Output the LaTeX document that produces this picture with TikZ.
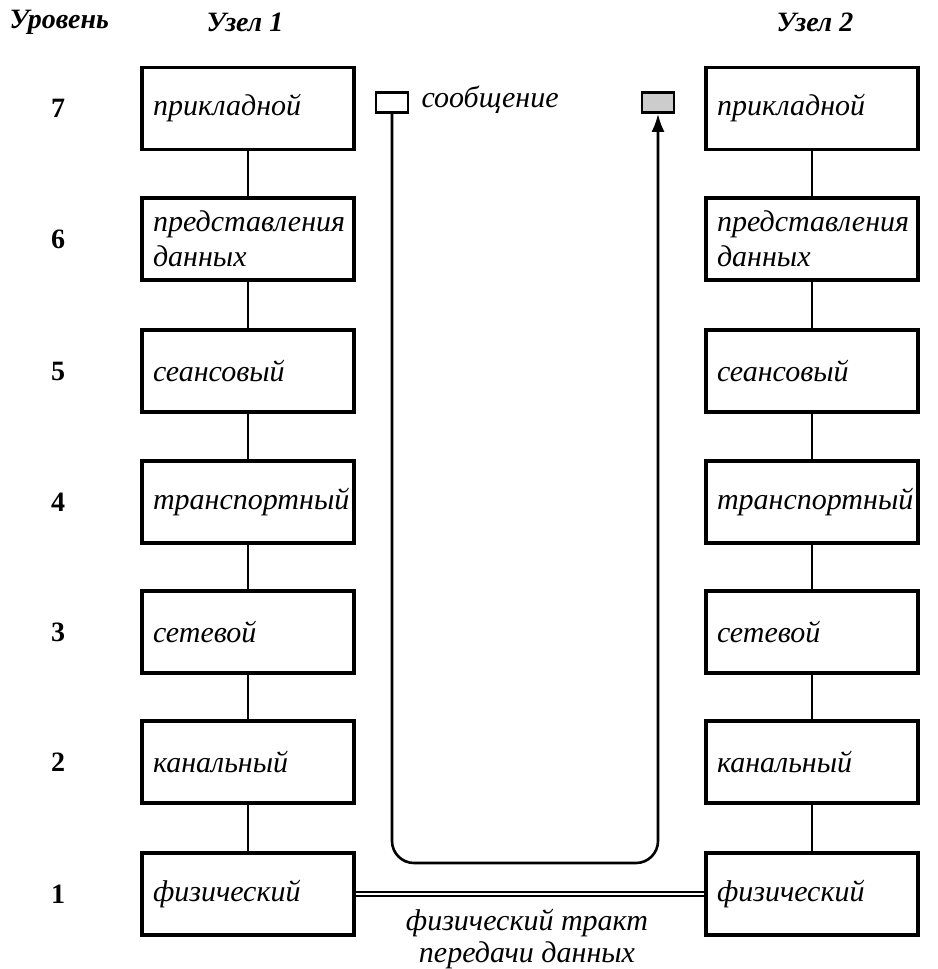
\documentclass[tikz,border=0pt]{standalone}
\usepackage{fontspec}
\setmainfont{Liberation Serif}
\usetikzlibrary{arrows.meta}
\begin{document}
\begin{tikzpicture}[x=1pt,y=-1pt,
  layer/.style={draw, line width=3.2pt, minimum width=212pt, minimum height=82pt,
    text width=190pt, align=left, inner sep=0pt,
    font=\fontsize{30}{35}\selectfont\itshape},
  lvl/.style={font=\fontsize{28}{30}\selectfont\bfseries},
  head/.style={font=\fontsize{28}{30}\selectfont\bfseries\itshape},
  link/.style={line width=2.6pt},
  msgbox/.style={draw, line width=2.6pt, minimum width=32pt, minimum height=20pt, inner sep=0pt},
  lbl/.style={font=\fontsize{30}{32}\selectfont\itshape}]
\useasboundingbox (0,0) rectangle (937,969);
\node[head, anchor=west] (hlev) at (6,22) {Уровень};
\node[head] (h1) at (245,22) {Узел 1};
\node[head] (h2) at (815,22) {Узел 2};
\foreach \n/\y/\t in {7/108.5/прикладной, 6/239/{представления\\данных}, 5/371/сеансовый, 4/502/транспортный, 3/632/сетевой, 2/762/канальный, 1/894/физический}{
  \node[lvl] (n\n) at (58,\y) {\n};
  \node[layer] (a\n) at (248,\y) {\t};
  \node[layer] (b\n) at (812,\y) {\t};
}
\foreach \i/\j in {7/6,6/5,5/4,4/3,3/2,2/1}{
  \draw[link] (a\i.south) -- (a\j.north);
  \draw[link] (b\i.south) -- (b\j.north);
}
\node[msgbox] (m1) at (392,102.5) {};
\node[msgbox, fill=black!20] (m2) at (658,102.5) {};
\node[lbl, anchor=west] (mtxt) at (418,100) {сообщение};
\coordinate (c1) at (392,863);
\coordinate (c2) at (658,863);
\draw[link, rounded corners=22pt, -{Latex[length=18pt,width=13pt]}] (m1.south) -- (c1) -- (c2) -- (m2.south);
\draw[line width=2pt, double, double distance=2pt] (a1.east) -- (b1.west);
\node[lbl, align=center] (ptxt) at (527,939) {физический тракт\\передачи данных};
\end{tikzpicture}
\end{document}
